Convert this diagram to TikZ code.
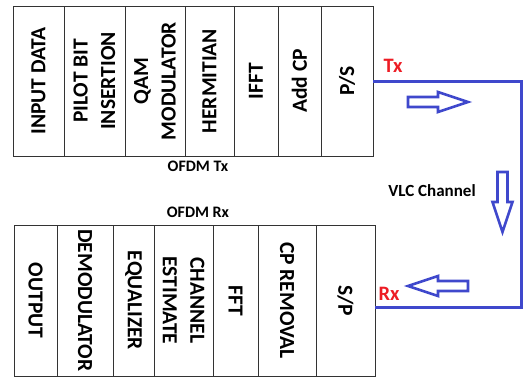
\documentclass[tikz,border=0pt]{standalone}
\usepackage{fontspec}
\setmainfont{Carlito}
\usetikzlibrary{arrows.meta,positioning,calc}
\definecolor{LinkBlue}{HTML}{3F48CC}
\definecolor{TagRed}{HTML}{ED1C24}
\newcommand{\blockfont}{\fontsize{21.5}{27.5}\selectfont\bfseries}

\tikzset{
  block/.style={draw=black!80,line width=0.9pt,minimum height=#1,inner sep=0pt,
    align=center,font=\blockfont},
  txblock/.style={block=#1,rotate=90,minimum width=150pt},
  rxblock/.style={block=#1,rotate=-90,minimum width=151pt},
  tag/.style={font=\fontsize{20.5}{24}\selectfont\bfseries,text=TagRed,inner sep=0pt},
  caption/.style={font=\fontsize{#1}{18}\selectfont\bfseries,inner sep=0pt},
  chan/.style={draw=LinkBlue,line width=3pt},
  fatarrow/.style={draw=LinkBlue,line width=2.6pt,line join=miter}
}

\begin{document}
\begin{tikzpicture}[x=1pt,y=-1pt]
  \useasboundingbox (0,0) rectangle (524,378);

  % transmitter chain
  \node[txblock=51pt] (ip) at (38.5,81) {INPUT DATA};
  \node[txblock=61pt] (pb) at (94.5,81) {PILOT BIT\\INSERTION};
  \node[txblock=60pt] (qam) at (155,81) {QAM\\MODULATOR};
  \node[txblock=49pt] (her) at (209.5,81) {HERMITIAN};
  \node[txblock=44pt] (ifft) at (256,81) {IFFT};
  \node[txblock=43pt] (acp) at (299.5,81) {Add CP};
  \node[txblock=52pt] (ps) at (347,81) {P/S};
  \node[caption=16] (otx) at (198,166) {OFDM Tx};

  % receiver chain
  \node[rxblock=43pt] (out) at (35.5,300.5) {OUTPUT};
  \node[rxblock=56pt] (dem) at (85,300.5) {DEMODULATOR};
  \node[rxblock=41pt] (eq) at (133.5,300.5) {EQUALIZER};
  \node[rxblock=59pt] (che) at (183.5,300.5) {CHANNEL\\ESTIMATE};
  \node[rxblock=45pt] (fft) at (235.5,300.5) {FFT};
  \node[rxblock=58pt] (cpr) at (287,300.5) {CP REMOVAL};
  \node[rxblock=59pt] (sp) at (345.5,300.5) {S/P};
  \node[caption=16] (orx) at (198,212) {OFDM Rx};

  % channel
  \node[tag] (tx) at (393,66) {Tx};
  \node[tag] (rx) at (389,294) {Rx};
  \node[caption=17] (vlc) at (432,191) {VLC Channel};
  \draw[chan] (ps.south) -- ++(148.5,0) |- ([yshift=-6.5pt]sp.north);

  \draw[fatarrow,shift={(408,102)}]
    (0,-5) -- (30,-5) -- (30,-10) -- (60,0) -- (30,10) -- (30,5) -- (0,5) -- cycle;
  \draw[fatarrow,shift={(502.5,172)},rotate=-90]
    (0,-5) -- (30,-5) -- (30,-10) -- (60,0) -- (30,10) -- (30,5) -- (0,5) -- cycle;
  \draw[fatarrow,shift={(468,286)},rotate=180]
    (0,-5) -- (30,-5) -- (30,-10) -- (60,0) -- (30,10) -- (30,5) -- (0,5) -- cycle;
\end{tikzpicture}
\end{document}
